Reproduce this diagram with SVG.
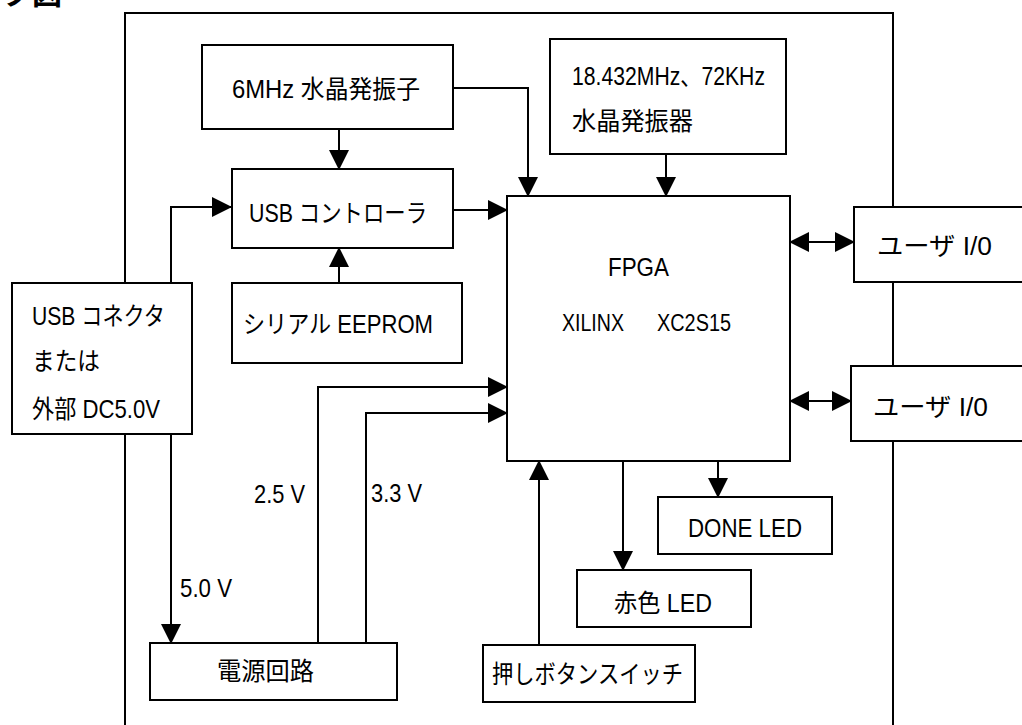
<svg xmlns="http://www.w3.org/2000/svg" width="1022" height="725" viewBox="0 0 1022 725">
<style>
.bx{fill:#fff;stroke:#000;stroke-width:2}
.t{font-family:"Liberation Sans","Noto Sans CJK JP",sans-serif;font-size:25px;fill:#000}
.c{fill:none;stroke:#000;stroke-width:2}
.a{marker-end:url(#ah)}
.d{marker-start:url(#ah);marker-end:url(#ah)}
.fr{fill:none;stroke:#000;stroke-width:2}
</style>
<defs>
<marker id="ah" markerUnits="userSpaceOnUse" markerWidth="20" markerHeight="20" refX="19" refY="10" orient="auto-start-reverse" viewBox="0 0 20 20">
<path d="M0,0 L20,10 L0,20 z" fill="#000"/>
</marker>
</defs>
<rect width="1022" height="725" fill="#fff"/>
<text x="2" y="4" style="font-family:'Noto Sans CJK JP',sans-serif;font-size:30px;font-weight:bold">ク図</text>
<g id="frame"><path class="fr" d="M125,735 V13 H893 V735"/></g>

<g id="connectors">
<path class="c a" d="M339,129 V169"/>
<path class="c a" d="M453,88 H528 V196"/>
<path class="c a" d="M666,154 V196"/>
<path class="c a" d="M453,210 H507"/>
<path class="c a" d="M339,283 V248"/>
<path class="c a" d="M171,283 V207 H231"/>
<path class="c a" d="M171,434 V643"/>
<path class="c a" d="M318,643 V387 H507"/>
<path class="c a" d="M366,643 V413 H507"/>
<path class="c a" d="M539,645 V461"/>
<path class="c a" d="M623,461 V570"/>
<path class="c a" d="M718,461 V497"/>
<path class="c d" d="M790,242 H854"/>
<path class="c d" d="M790,401 H851"/>
</g>

<g id="osc6"><rect class="bx" x="202" y="45" width="251" height="84"/><text class="t" x="232" y="98" textLength="188" lengthAdjust="spacingAndGlyphs">6MHz 水晶発振子</text></g>
<g id="osc18"><rect class="bx" x="550" y="39" width="236" height="115"/><text class="t" x="572" y="85" textLength="193" lengthAdjust="spacingAndGlyphs">18.432MHz、72KHz</text><text class="t" x="572" y="130" textLength="121" lengthAdjust="spacingAndGlyphs">水晶発振器</text></g>
<g id="usbctrl"><rect class="bx" x="232" y="169" width="221" height="79"/><text class="t" x="249" y="222" textLength="178" lengthAdjust="spacingAndGlyphs">USB コントローラ</text></g>
<g id="eeprom"><rect class="bx" x="232" y="283" width="230" height="80"/><text class="t" x="243" y="333" textLength="190" lengthAdjust="spacingAndGlyphs">シリアル EEPROM</text></g>
<g id="usbconn"><rect class="bx" x="12" y="283" width="180" height="151"/><text class="t" x="32" y="325" textLength="133" lengthAdjust="spacingAndGlyphs">USB コネクタ</text><text class="t" x="32" y="370" textLength="68" lengthAdjust="spacingAndGlyphs">または</text><text class="t" x="32" y="418" textLength="128" lengthAdjust="spacingAndGlyphs">外部 DC5.0V</text></g>
<g id="fpga"><rect class="bx" x="507" y="196" width="283" height="265"/><text class="t" x="608" y="276" textLength="61" lengthAdjust="spacingAndGlyphs">FPGA</text><text class="t" x="562" y="331" textLength="62" lengthAdjust="spacingAndGlyphs" style="font-size:23px">XILINX</text><text class="t" x="657" y="331" textLength="74" lengthAdjust="spacingAndGlyphs" style="font-size:23px">XC2S15</text></g>
<g id="userio1"><rect class="bx" x="854" y="207" width="180" height="75"/><text class="t" x="877" y="255" textLength="115" lengthAdjust="spacingAndGlyphs">ユーザ I/0</text></g>
<g id="userio2"><rect class="bx" x="851" y="366" width="180" height="75"/><text class="t" x="873" y="416" textLength="115" lengthAdjust="spacingAndGlyphs">ユーザ I/0</text></g>
<g id="power"><rect class="bx" x="150" y="643" width="247" height="57"/><text class="t" x="217" y="680" textLength="97" lengthAdjust="spacingAndGlyphs">電源回路</text></g>
<g id="push"><rect class="bx" x="483" y="645" width="212" height="57"/><text class="t" x="492" y="683" textLength="191" lengthAdjust="spacingAndGlyphs">押しボタンスイッチ</text></g>
<g id="redled"><rect class="bx" x="577" y="570" width="174" height="57"/><text class="t" x="614" y="612" textLength="98" lengthAdjust="spacingAndGlyphs">赤色 LED</text></g>
<g id="doneled"><rect class="bx" x="658" y="497" width="174" height="57"/><text class="t" x="688" y="537" textLength="114" lengthAdjust="spacingAndGlyphs">DONE LED</text></g>
<g id="labels">
<text class="t" x="180" y="597" textLength="52" lengthAdjust="spacingAndGlyphs">5.0 V</text>
<text class="t" x="254" y="503" textLength="51" lengthAdjust="spacingAndGlyphs">2.5 V</text>
<text class="t" x="371" y="502" textLength="51" lengthAdjust="spacingAndGlyphs">3.3 V</text>
</g>
</svg>
